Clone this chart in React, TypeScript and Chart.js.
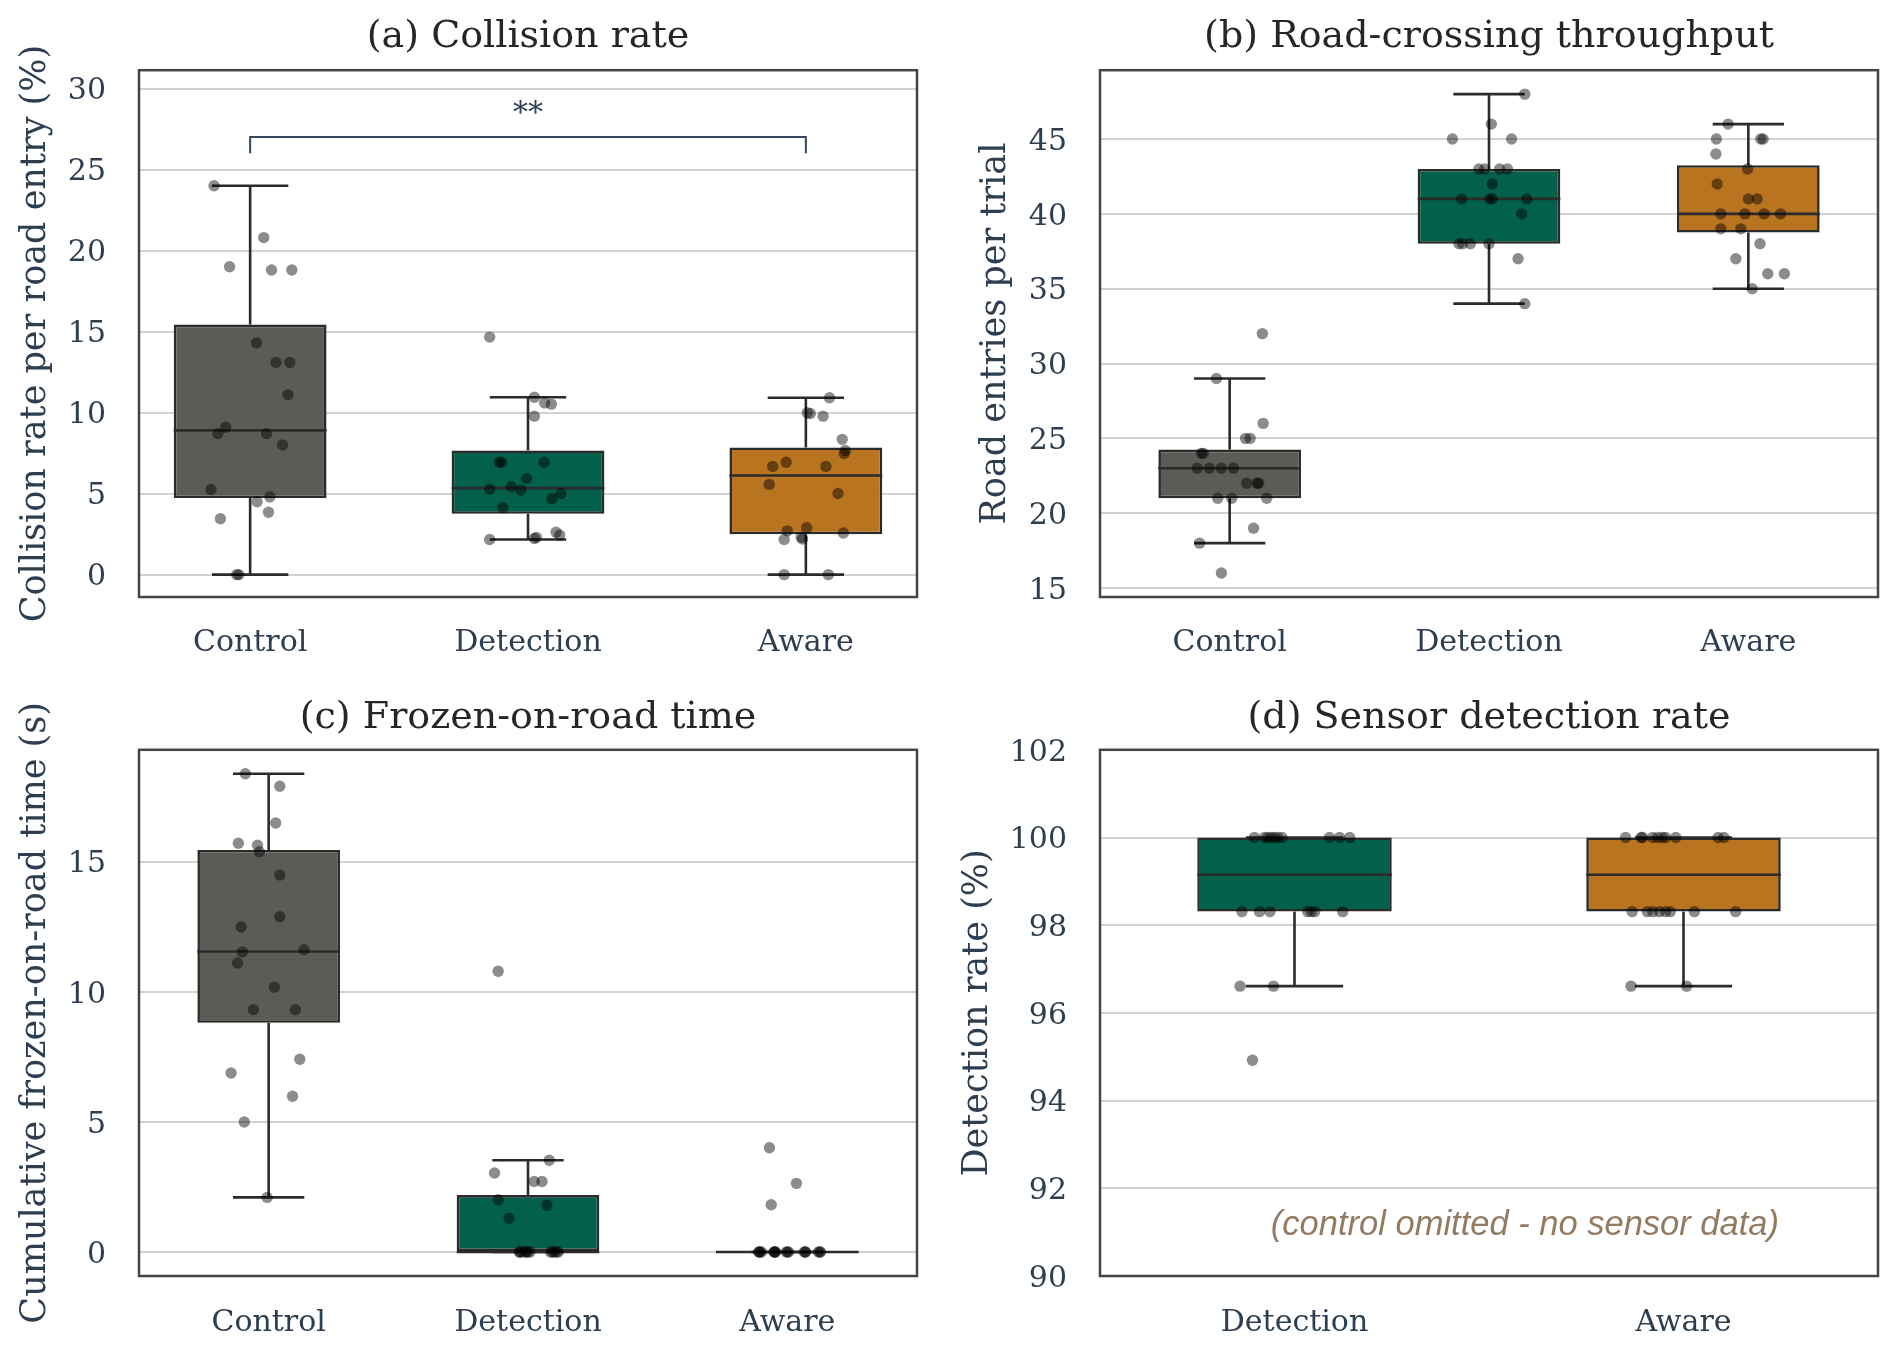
import React, { useEffect, useRef } from 'react';
import { Chart, registerables } from 'chart.js';

Chart.register(...registerables);

// ---------------- data ----------------
const GROUPS_ABC = ['Control', 'Detection', 'Aware'];
const GROUPS_D = ['Detection', 'Aware'];

const COLOR_CONTROL = '#5c5c57';
const COLOR_DETECTION = '#03604b';
const COLOR_AWARE = '#b97420';

// (a) Collision rate per road entry (%)
const A_CONTROL = [24.0, 20.8, 19.0, 18.8, 18.8, 14.3, 13.1, 13.1, 11.1, 9.1, 8.7, 8.7, 8.0, 5.25, 4.5, 4.8, 3.85, 3.45, 0, 0];
const A_CONTROL_JIT = [-0.13, 0.049, -0.074, 0.077, 0.15, 0.023, 0.093, 0.143, 0.136, -0.088, -0.116, 0.059, 0.117, -0.141, 0.025, 0.071, 0.066, -0.107, -0.041, -0.048];
const A_DETECTION = [14.66, 10.95, 10.52, 10.6, 9.78, 6.94, 6.94, 6.94, 5.94, 5.41, 5.27, 5.22, 5.01, 4.69, 4.13, 2.62, 2.44, 2.3, 2.23, 2.17];
const A_DETECTION_JIT = [-0.138, 0.023, 0.084, 0.06, 0.023, -0.104, -0.095, 0.058, -0.005, -0.06, -0.138, -0.025, 0.119, 0.086, -0.09, 0.101, 0.114, 0.03, 0.023, -0.138];
const A_AWARE = [10.92, 9.99, 9.94, 9.78, 8.35, 7.66, 7.47, 6.94, 6.68, 6.68, 5.57, 5.01, 2.89, 2.7, 2.57, 2.31, 2.2, 2.17, 0, 0];
const A_AWARE_JIT = [0.085, 0.005, 0.016, 0.062, 0.131, 0.142, 0.138, -0.071, -0.119, 0.072, -0.132, 0.116, 0.003, -0.067, 0.135, -0.017, -0.012, -0.078, -0.078, 0.081];
const A_Q1 = [4.73, 3.75, 2.49];
const A_MED = [8.9, 5.34, 6.12];
const A_Q3 = [15.43, 7.66, 7.85];
const A_LO = [0, 2.17, 0];
const A_HI = [24.0, 10.95, 10.92];
const A_Y_TICKS = [0, 5, 10, 15, 20, 25, 30];
const A_BRACKET = { from: 0, to: 2, legBottom: 26, top: 27, labelY: 27.95, label: '**' };

// (b) Road entries per trial
const B_CONTROL = [32, 29, 26, 25, 25, 24, 24, 23, 23, 23, 23, 22, 22, 22, 21, 21, 21, 19, 18, 16];
const B_CONTROL_JIT = [0.126, -0.051, 0.129, 0.061, 0.079, -0.109, -0.102, -0.125, -0.078, -0.032, 0.015, 0.066, 0.112, 0.106, -0.046, 0.008, 0.143, 0.092, -0.116, -0.032];
const B_DETECTION = [48, 46, 45, 45, 43, 43, 43, 43, 42, 41, 41, 41, 41, 40, 38, 38, 38, 38, 37, 34];
const B_DETECTION_JIT = [0.138, 0.009, -0.141, 0.087, -0.039, -0.017, 0.041, 0.071, 0.013, -0.106, 0.013, 0.145, 0.003, 0.126, -0.116, -0.072, 0.0, -0.102, 0.112, 0.138];
const B_AWARE = [46, 45, 45, 45, 44, 43, 42, 41, 41, 40, 40, 40, 40, 39, 39, 38, 37, 36, 36, 35];
const B_AWARE_JIT = [-0.078, -0.123, 0.057, 0.048, -0.125, -0.003, -0.12, 0.0, 0.034, -0.106, -0.013, 0.061, 0.124, -0.106, -0.029, 0.045, -0.048, 0.075, 0.139, 0.015];
const B_Q1 = [21, 38, 38.75];
const B_MED = [23, 41, 40];
const B_Q3 = [24.25, 43, 43.25];
const B_LO = [18, 34, 35];
const B_HI = [29, 48, 46];
const B_Y_TICKS = [15, 20, 25, 30, 35, 40, 45];

// (c) Cumulative frozen-on-road time (s)
const C_CONTROL = [18.38, 17.9, 16.49, 15.71, 15.63, 15.38, 14.49, 12.89, 12.49, 11.53, 11.62, 11.11, 10.18, 9.31, 9.31, 7.41, 6.88, 5.99, 5.0, 2.1];
const C_CONTROL_JIT = [-0.09, 0.043, 0.027, -0.117, -0.043, -0.036, 0.043, 0.043, -0.106, -0.101, 0.136, -0.12, 0.022, -0.059, 0.103, 0.12, -0.145, 0.092, -0.094, -0.006];
const C_DETECTION = [10.79, 3.53, 3.04, 2.71, 2.71, 2.01, 1.8, 1.3, 0, 0, 0, 0, 0, 0, 0, 0, 0, 0, 0, 0];
const C_DETECTION_JIT = [-0.115, 0.082, -0.129, 0.024, 0.054, -0.115, 0.073, -0.073, -0.034, -0.011, 0.008, 0.087, 0.117, -0.025, 0.0, 0.102, 0.094, -0.031, -0.006, 0.11];
const C_AWARE = [4.01, 2.64, 1.82, 0, 0, 0, 0, 0, 0, 0, 0, 0, 0, 0, 0, 0, 0, 0, 0, 0];
const C_AWARE_JIT = [-0.069, 0.035, -0.062, -0.109, -0.051, -0.004, 0.07, 0.128, -0.1, -0.045, 0.005, 0.065, 0.12, -0.11, -0.05, 0.0, 0.07, 0.125, -0.105, -0.048];
const C_Q1 = [8.81, 0, 0];
const C_MED = [11.55, 0, 0];
const C_Q3 = [15.45, 2.19, 0];
const C_LO = [2.1, 0, 0];
const C_HI = [18.38, 3.53, 0];
const C_Y_TICKS = [0, 5, 10, 15];

// (d) Detection rate (%)
const D_DETECTION = [100, 100, 100, 100, 100, 100, 100, 100, 100, 100, 98.31, 98.31, 98.31, 98.31, 98.31, 98.31, 98.31, 96.61, 96.61, 94.92];
const D_DETECTION_JIT = [-0.103, -0.077, -0.069, -0.06, -0.052, -0.043, -0.032, 0.09, 0.116, 0.142, -0.135, -0.09, -0.063, 0.034, 0.043, 0.052, 0.124, -0.14, -0.054, -0.108];
const D_AWARE = [100, 100, 100, 100, 100, 100, 100, 100, 100, 100, 98.31, 98.31, 98.31, 98.31, 98.31, 98.31, 98.31, 98.31, 96.61, 96.61];
const D_AWARE_JIT = [-0.149, -0.109, -0.105, -0.066, -0.054, -0.046, -0.02, 0.089, 0.104, -0.079, -0.132, -0.093, -0.062, -0.046, -0.034, 0.028, 0.134, -0.079, -0.135, 0.008];
const D_Q1 = [98.31, 98.31];
const D_MED = [99.15, 99.15];
const D_Q3 = [100, 100];
const D_LO = [96.61, 96.61];
const D_HI = [100, 100];
const D_Y_TICKS = [90, 92, 94, 96, 98, 100, 102];
const D_NOTE = '(control omitted - no sensor data)';

// ---------------- styling ----------------
const SERIF = "'DejaVu Serif', serif";
const TEXT = '#2c3e50';
const TITLE_COLOR = '#262626';
const EDGE = '#2b2b2b';
const GRID = '#d2d2d2';
const FRAME = '#444444';
const POINT = 'rgba(0,0,0,0.45)';

type PanelCfg = {
  id: string;
  title: string;
  ylabel: string;
  categories: string[];
  colors: string[];
  values: number[][];
  jitter: number[][];
  q1: number[]; med: number[]; q3: number[]; lo: number[]; hi: number[];
  yTicks: number[];
  yMin: number; yMax: number;
  xMin: number; xMax: number;
  boxWidth: number;
  bracket?: typeof A_BRACKET;
  note?: string;
  // layout
  left: number; top: number; w: number; h: number;
  padTop: number; padRight: number; titleGap: number;
  yAxisWidth: number; xAxisHeight: number;
  ylabelPad: number; xTickPad: number;
};

const PANELS: PanelCfg[] = [
  {
    id: 'a', title: '(a) Collision rate', ylabel: 'Collision rate per road entry (%)',
    categories: GROUPS_ABC, colors: [COLOR_CONTROL, COLOR_DETECTION, COLOR_AWARE],
    values: [A_CONTROL, A_DETECTION, A_AWARE], jitter: [A_CONTROL_JIT, A_DETECTION_JIT, A_AWARE_JIT],
    q1: A_Q1, med: A_MED, q3: A_Q3, lo: A_LO, hi: A_HI,
    yTicks: A_Y_TICKS, yMin: -1.38, yMax: 31.13, xMin: -0.4, xMax: 2.4, boxWidth: 0.55,
    bracket: A_BRACKET,
    left: 0, top: 0, w: 1056, h: 674, padTop: 14.6, padRight: 139, titleGap: 10, yAxisWidth: 139, xAxisHeight: 77,
    ylabelPad: 15, xTickPad: 28,
  },
  {
    id: 'b', title: '(b) Road-crossing throughput', ylabel: 'Road entries per trial',
    categories: GROUPS_ABC, colors: [COLOR_CONTROL, COLOR_DETECTION, COLOR_AWARE],
    values: [B_CONTROL, B_DETECTION, B_AWARE], jitter: [B_CONTROL_JIT, B_DETECTION_JIT, B_AWARE_JIT],
    q1: B_Q1, med: B_MED, q3: B_Q3, lo: B_LO, hi: B_HI,
    yTicks: B_Y_TICKS, yMin: 14.4, yMax: 49.6, xMin: -0.5, xMax: 2.5, boxWidth: 0.55,
    left: 940, top: 0, w: 1098, h: 674, padTop: 14.6, padRight: 160, titleGap: 10, yAxisWidth: 160, xAxisHeight: 77,
    ylabelPad: 34.5, xTickPad: 28,
  },
  {
    id: 'c', title: '(c) Frozen-on-road time', ylabel: 'Cumulative frozen-on-road time (s)',
    categories: GROUPS_ABC, colors: [COLOR_CONTROL, COLOR_DETECTION, COLOR_AWARE],
    values: [C_CONTROL, C_DETECTION, C_AWARE], jitter: [C_CONTROL_JIT, C_DETECTION_JIT, C_AWARE_JIT],
    q1: C_Q1, med: C_MED, q3: C_Q3, lo: C_LO, hi: C_HI,
    yTicks: C_Y_TICKS, yMin: -0.92, yMax: 19.3, xMin: -0.5, xMax: 2.5, boxWidth: 0.55,
    left: 0, top: 674, w: 1056, h: 674, padTop: 21.4, padRight: 139, titleGap: 8.8, yAxisWidth: 139, xAxisHeight: 72,
    ylabelPad: 15, xTickPad: 29,
  },
  {
    id: 'd', title: '(d) Sensor detection rate', ylabel: 'Detection rate (%)',
    categories: GROUPS_D, colors: [COLOR_DETECTION, COLOR_AWARE],
    values: [D_DETECTION, D_AWARE], jitter: [D_DETECTION_JIT, D_AWARE_JIT],
    q1: D_Q1, med: D_MED, q3: D_Q3, lo: D_LO, hi: D_HI,
    yTicks: D_Y_TICKS, yMin: 90, yMax: 102, xMin: -0.5, xMax: 1.5, boxWidth: 0.5,
    note: D_NOTE,
    left: 940, top: 674, w: 1098, h: 674, padTop: 21.4, padRight: 160, titleGap: 8.8, yAxisWidth: 160, xAxisHeight: 72,
    ylabelPad: 16.5, xTickPad: 29,
  },
];

function makeExtras(p: PanelCfg) {
  return {
    id: 'extras_' + p.id,
    afterDatasetDraw(chart: any, args: any) {
      if (args.meta.type !== 'bar') return;
      const ctx = chart.ctx;
      const xs = chart.scales.x;
      const ys = chart.scales.y;
      const seg = (x1: number, y1: number, x2: number, y2: number) => {
        ctx.beginPath();
        ctx.moveTo(x1, y1);
        ctx.lineTo(x2, y2);
        ctx.stroke();
      };
      ctx.save();
      ctx.strokeStyle = EDGE;
      ctx.lineWidth = 2.6;
      p.categories.forEach((_, i) => {
        const cx = xs.getPixelForValue(i);
        const hw = xs.getPixelForValue(i + p.boxWidth / 2) - cx;
        const cw = hw / 2;
        const yq1 = ys.getPixelForValue(p.q1[i]);
        const yq3 = ys.getPixelForValue(p.q3[i]);
        const ylo = ys.getPixelForValue(p.lo[i]);
        const yhi = ys.getPixelForValue(p.hi[i]);
        const ymed = ys.getPixelForValue(p.med[i]);
        seg(cx, yq3, cx, yhi);
        seg(cx, yq1, cx, ylo);
        seg(cx - cw, yhi, cx + cw, yhi);
        seg(cx - cw, ylo, cx + cw, ylo);
        seg(cx - hw, ymed, cx + hw, ymed);
      });
      ctx.restore();
    },
    afterDatasetsDraw(chart: any) {
      const ctx = chart.ctx;
      const xs = chart.scales.x;
      const ys = chart.scales.y;
      const area = chart.chartArea;
      ctx.save();
      if (p.bracket) {
        const b = p.bracket;
        const x1 = xs.getPixelForValue(b.from);
        const x2 = xs.getPixelForValue(b.to);
        const yb = ys.getPixelForValue(b.legBottom);
        const yt = ys.getPixelForValue(b.top);
        ctx.strokeStyle = '#34495e';
        ctx.lineWidth = 2;
        ctx.beginPath();
        ctx.moveTo(x1, yb);
        ctx.lineTo(x1, yt);
        ctx.lineTo(x2, yt);
        ctx.lineTo(x2, yb);
        ctx.stroke();
        ctx.fillStyle = TEXT;
        ctx.font = `30px ${SERIF}`;
        ctx.textAlign = 'center';
        ctx.textBaseline = 'alphabetic';
        ctx.fillText(b.label, (x1 + x2) / 2, ys.getPixelForValue(b.labelY));
      }
      if (p.note) {
        ctx.fillStyle = '#937a62';
        ctx.font = `italic 34.5px 'Liberation Sans', Arial, sans-serif`;
        ctx.textAlign = 'center';
        ctx.textBaseline = 'middle';
        const x = area.left + 0.55 * (area.right - area.left);
        const y = area.top + 0.9 * (area.bottom - area.top) + 2;
        ctx.fillText(p.note, x - 3, y);
      }
      ctx.restore();
    },
    afterDraw(chart: any) {
      const ctx = chart.ctx;
      const a = chart.chartArea;
      ctx.save();
      ctx.strokeStyle = FRAME;
      ctx.lineWidth = 2.5;
      ctx.strokeRect(a.left, a.top, a.right - a.left, a.bottom - a.top);
      ctx.restore();
    },
  };
}

function buildConfig(p: PanelCfg): any {
  const points: { x: number; y: number }[] = [];
  p.values.forEach((vals, gi) => {
    vals.forEach((v, k) => points.push({ x: gi + p.jitter[gi][k], y: v }));
  });
  const boxes = p.categories.map((_, i) => ({ x: i, y: [p.q1[i], p.q3[i]] }));
  const catTicks = p.categories.map((_, i) => i);

  return {
    type: 'bar',
    data: {
      datasets: [
        {
          type: 'scatter',
          data: points,
          order: 0,
          pointRadius: 5.7,
          pointHoverRadius: 5.7,
          pointBackgroundColor: POINT,
          backgroundColor: POINT,
          pointBorderWidth: 0,
          borderWidth: 0,
        },
        {
          type: 'bar',
          data: boxes,
          order: 1,
          backgroundColor: p.colors,
          borderColor: EDGE,
          borderWidth: 2.6,
          borderSkipped: false,
          barPercentage: p.boxWidth,
          categoryPercentage: 1,
        },
      ],
    },
    options: {
      responsive: false,
      maintainAspectRatio: false,
      animation: false,
      devicePixelRatio: 1,
      events: [],
      layout: {
        autoPadding: false,
        padding: { top: p.padTop, left: 0, right: p.padRight, bottom: 0 },
      },
      plugins: {
        legend: { display: false },
        tooltip: { enabled: false },
        title: {
          display: true,
          fullSize: false,
          text: p.title,
          color: TITLE_COLOR,
          font: { family: SERIF, size: 38, weight: 'normal' },
          padding: { top: 0, bottom: p.titleGap },
        },
      },
      scales: {
        x: {
          type: 'linear',
          min: p.xMin,
          max: p.xMax,
          offset: false,
          afterBuildTicks: (scale: any) => {
            scale.ticks = catTicks.map((v) => ({ value: v }));
          },
          afterFit: (scale: any) => {
            scale.height = p.xAxisHeight;
          },
          grid: { display: false, drawTicks: false, offset: false },
          border: { display: false },
          ticks: {
            autoSkip: false,
            maxRotation: 0,
            minRotation: 0,
            padding: p.xTickPad,
            color: TEXT,
            font: { family: SERIF, size: 30 },
            callback: (v: number) => p.categories[v],
          },
        },
        y: {
          type: 'linear',
          min: p.yMin,
          max: p.yMax,
          beginAtZero: false,
          afterBuildTicks: (scale: any) => {
            scale.ticks = p.yTicks.map((v) => ({ value: v }));
          },
          afterFit: (scale: any) => {
            scale.width = p.yAxisWidth;
          },
          grid: { color: GRID, lineWidth: 2, drawTicks: false },
          border: { display: false },
          ticks: {
            padding: 33,
            labelOffset: 3,
            color: TEXT,
            font: { family: SERIF, size: 30 },
          },
          title: {
            display: true,
            text: p.ylabel,
            color: TEXT,
            font: { family: SERIF, size: 35 },
            padding: { top: p.ylabelPad, bottom: 0 },
          },
        },
      },
    },
    plugins: [makeExtras(p)],
  };
}

function PanelCanvas({ p }: { p: PanelCfg }) {
  const ref = useRef<HTMLCanvasElement>(null);
  useEffect(() => {
    if (!ref.current) return;
    const chart = new Chart(ref.current, buildConfig(p));
    return () => chart.destroy();
  }, [p]);
  return (
    <canvas
      ref={ref}
      width={p.w}
      height={p.h}
      style={{ position: 'absolute', left: p.left, top: p.top, width: p.w, height: p.h }}
    />
  );
}

export default function App() {
  return (
    <div
      style={{
        position: 'fixed',
        left: 0,
        top: 0,
        width: 1896,
        height: 1348,
        overflow: 'hidden',
        background: '#ffffff',
      }}
    >
      {PANELS.map((p) => (
        <PanelCanvas key={p.id} p={p} />
      ))}
    </div>
  );
}
